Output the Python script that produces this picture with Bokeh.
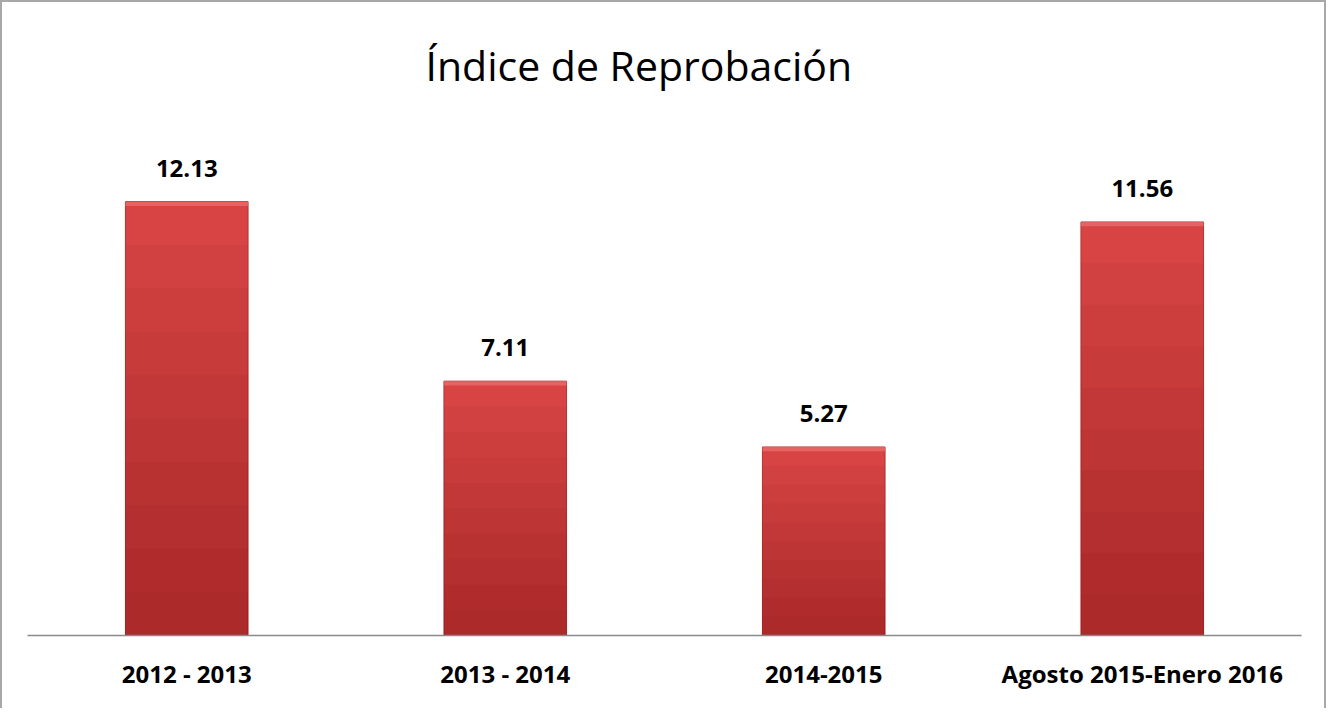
from bokeh.plotting import figure
from bokeh.models import FactorRange, Range1d
from bokeh.embed import file_html
from bokeh.resources import INLINE
from bokeh.core.properties import value

# ---- data ----
categories = ["2012 - 2013", "2013 - 2014", "2014-2015", "Agosto 2015-Enero 2016"]
values = [12.13, 7.11, 5.27, 11.56]
value_labels = [f"{v:.2f}" for v in values]
title_text = "Índice de Reprobación"

FONT = "Open Sans"
BAR_W = 0.385

p = figure(
    x_range=FactorRange(factors=categories, range_padding=0),
    y_range=Range1d(0, 14.9),
    width=1326, height=708,
    output_backend="svg", toolbar_location=None,
    min_border_left=25, min_border_right=27,
    min_border_top=100, min_border_bottom=75,
)
p.styles = {
    "border-left": "2px solid #a8a8a8",
    "border-top": "2px solid #a8a8a8",
    "border-right": "2px solid #a8a8a8",
}

p.title.text = title_text
p.title.align = "left"
p.title.offset = 398
p.title.standoff = 19
p.title.text_font = FONT
p.title.text_font_size = "41px"
p.title.text_font_style = "normal"
p.title.text_color = "black"

p.outline_line_color = None
p.xgrid.visible = False
p.ygrid.visible = False
p.yaxis.visible = False

ax = p.xaxis[0]
ax.axis_line_color = "#8a8a8a"
ax.axis_line_width = 1.5
ax.major_tick_line_color = None
ax.minor_tick_line_color = None
ax.major_label_text_font = FONT
ax.major_label_text_font_style = "bold"
ax.major_label_text_font_size = "24px"
ax.major_label_text_color = "black"
ax.major_label_standoff = 15

# bars: base fill
p.vbar(x=categories, top=values, width=BAR_W, fill_color="#d84444",
       line_color="#b53232", line_width=1)
# vertical shading (darker toward the bottom)
for k in range(1, 10):
    p.vbar(x=categories, top=[v * (1 - k / 10) for v in values], width=BAR_W,
           fill_color="#5a0a0a", fill_alpha=0.045, line_color=None)
# top highlight
p.vbar(x=categories, bottom=[v - 0.12 for v in values], top=values, width=BAR_W,
       fill_color="#ec7070", fill_alpha=0.7, line_color=None)

# value labels
p.text(x=categories, y=values, text=value_labels, text_align="center",
       text_baseline="bottom", y_offset=-25, text_font=value(FONT),
       text_font_style="bold", text_font_size="24px", text_color="black")

open("out.html", "w").write(file_html(p, INLINE))
